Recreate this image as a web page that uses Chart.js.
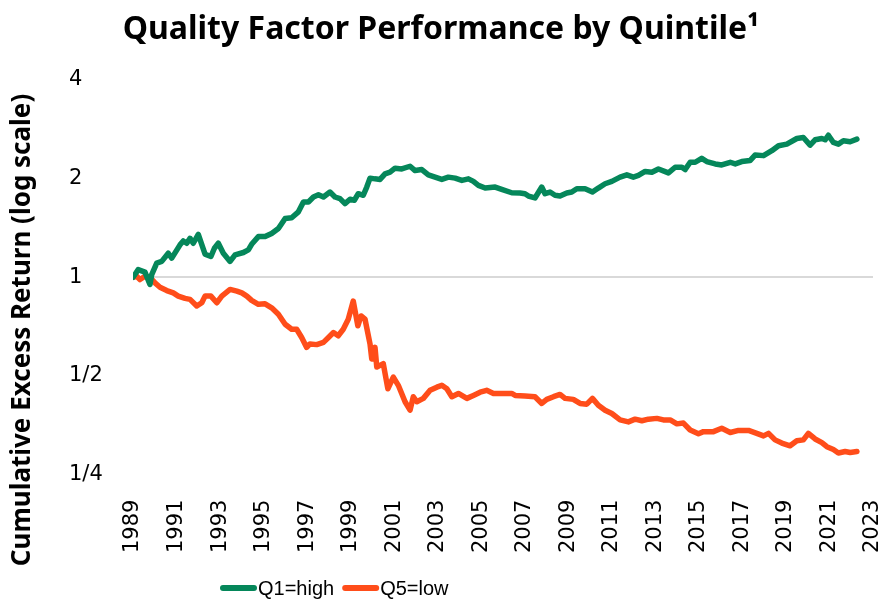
<!DOCTYPE html>
<html>
<head>
<meta charset="utf-8">
<script src="https://cdn.jsdelivr.net/npm/chart.js@4.4.1/dist/chart.umd.min.js"></script>
<style>
  html, body { margin: 0; padding: 0; background: #fff; }
  canvas { display: block; }
</style>
</head>
<body>
<canvas id="qualityChart" width="885" height="601"></canvas>
<script>
// --- values (cumulative excess return, log scale) ---
const q1Years = [1989.0, 1989.24, 1989.55, 1989.78, 1989.86, 1990.09, 1990.32, 1990.62, 1990.78, 1991.16,
  1991.31, 1991.47, 1991.62, 1991.77, 1992.0, 1992.31, 1992.58, 1992.74, 1992.92, 1993.15,
  1993.46, 1993.69, 1994.07, 1994.3, 1994.45, 1994.76, 1995.07, 1995.37, 1995.68, 1995.99,
  1996.29, 1996.6, 1996.83, 1997.06, 1997.29, 1997.52, 1997.75, 1998.05, 1998.28, 1998.51,
  1998.74, 1998.97, 1999.17, 1999.35, 1999.58, 1999.74, 1999.89, 2000.12, 2000.35, 2000.58,
  2000.81, 2001.04, 2001.35, 2001.73, 2001.96, 2002.27, 2002.57, 2002.88, 2003.19, 2003.49,
  2003.8, 2004.11, 2004.41, 2004.64, 2004.87, 2005.18, 2005.64, 2005.94, 2006.4, 2006.78,
  2007.01, 2007.17, 2007.47, 2007.78, 2007.93, 2008.16, 2008.39, 2008.62, 2008.93, 2009.16,
  2009.39, 2009.77, 2010.11, 2010.38, 2010.69, 2011.0, 2011.38, 2011.69, 2011.99, 2012.22,
  2012.53, 2012.84, 2013.14, 2013.6, 2013.91, 2014.22, 2014.37, 2014.6, 2014.83, 2015.13,
  2015.36, 2015.75, 2016.05, 2016.44, 2016.67, 2016.97, 2017.35, 2017.58, 2017.97, 2018.35,
  2018.66, 2019.04, 2019.5, 2019.8, 2020.11, 2020.34, 2020.65, 2020.8, 2020.95, 2021.18,
  2021.41, 2021.64, 2021.95, 2022.26];
const q1Values = [1.0, 1.055, 1.037, 0.951, 1.019, 1.105, 1.118, 1.184, 1.144, 1.256,
  1.291, 1.270, 1.315, 1.270, 1.352, 1.176, 1.157, 1.226, 1.270, 1.184,
  1.118, 1.171, 1.190, 1.213, 1.261, 1.331, 1.331, 1.361, 1.409, 1.512,
  1.519, 1.584, 1.698, 1.698, 1.758, 1.786, 1.758, 1.820, 1.758, 1.738,
  1.678, 1.730, 1.718, 1.799, 1.779, 1.885, 2.007, 1.997, 1.989, 2.068,
  2.093, 2.152, 2.141, 2.182, 2.117, 2.132, 2.054, 2.021, 1.989, 2.021,
  2.007, 1.975, 1.997, 1.962, 1.908, 1.872, 1.885, 1.855, 1.811, 1.808,
  1.799, 1.770, 1.746, 1.885, 1.799, 1.820, 1.779, 1.770, 1.808, 1.820,
  1.862, 1.862, 1.820, 1.872, 1.929, 1.962, 2.021, 2.054, 2.021, 2.045,
  2.103, 2.093, 2.141, 2.082, 2.167, 2.167, 2.132, 2.244, 2.244, 2.307,
  2.255, 2.218, 2.202, 2.244, 2.218, 2.255, 2.271, 2.360, 2.351, 2.434,
  2.521, 2.549, 2.652, 2.670, 2.531, 2.628, 2.652, 2.628, 2.713, 2.579,
  2.549, 2.610, 2.592, 2.639];

const q5Years = [1989.0, 1989.17, 1989.32, 1989.55, 1989.78, 1990.01, 1990.24, 1990.55, 1990.85, 1991.08,
  1991.39, 1991.62, 1991.93, 1992.16, 1992.31, 1992.58, 1992.85, 1993.08, 1993.46, 1993.77,
  1994.0, 1994.23, 1994.45, 1994.76, 1995.07, 1995.37, 1995.68, 1995.99, 1996.29, 1996.52,
  1996.75, 1996.98, 1997.13, 1997.44, 1997.75, 1997.98, 1998.21, 1998.43, 1998.66, 1998.89,
  1999.12, 1999.33, 1999.48, 1999.66, 1999.89, 1999.97, 2000.12, 2000.2, 2000.5, 2000.71,
  2000.96, 2001.19, 2001.5, 2001.73, 2001.88, 2002.04, 2002.34, 2002.65, 2002.96, 2003.19,
  2003.42, 2003.65, 2003.95, 2004.34, 2004.64, 2004.95, 2005.25, 2005.56, 2005.94, 2006.4,
  2006.56, 2007.01, 2007.47, 2007.78, 2008.01, 2008.32, 2008.62, 2008.85, 2009.23, 2009.54,
  2009.85, 2010.11, 2010.38, 2010.69, 2011.0, 2011.38, 2011.76, 2012.07, 2012.38, 2012.68,
  2013.07, 2013.37, 2013.68, 2013.99, 2014.29, 2014.6, 2014.98, 2015.21, 2015.67, 2016.05,
  2016.44, 2016.82, 2017.28, 2017.66, 2017.97, 2018.2, 2018.5, 2018.81, 2019.19, 2019.5,
  2019.8, 2020.03, 2020.34, 2020.65, 2020.88, 2021.18, 2021.41, 2021.72, 2021.95, 2022.26];
const q5Values = [1.0, 1.007, 0.984, 1.007, 1.0, 0.961, 0.932, 0.911, 0.896, 0.876,
  0.862, 0.856, 0.817, 0.836, 0.876, 0.876, 0.836, 0.876, 0.918, 0.907,
  0.896, 0.876, 0.850, 0.827, 0.830, 0.807, 0.771, 0.719, 0.694, 0.694,
  0.655, 0.611, 0.626, 0.623, 0.633, 0.655, 0.678, 0.663, 0.694, 0.745,
  0.846, 0.711, 0.762, 0.745, 0.626, 0.563, 0.611, 0.532, 0.545, 0.457,
  0.496, 0.468, 0.417, 0.393, 0.432, 0.417, 0.427, 0.452, 0.462, 0.468,
  0.457, 0.432, 0.442, 0.427, 0.436, 0.446, 0.452, 0.442, 0.442, 0.442,
  0.436, 0.434, 0.432, 0.412, 0.424, 0.432, 0.439, 0.427, 0.424, 0.412,
  0.410, 0.427, 0.407, 0.393, 0.384, 0.367, 0.362, 0.369, 0.365, 0.369,
  0.371, 0.367, 0.367, 0.357, 0.359, 0.342, 0.333, 0.338, 0.338, 0.346,
  0.336, 0.341, 0.341, 0.334, 0.328, 0.334, 0.319, 0.312, 0.306, 0.317,
  0.319, 0.334, 0.321, 0.313, 0.304, 0.298, 0.291, 0.294, 0.292, 0.294];

const seriesLabels = ['Q1=high', 'Q5=low'];
const seriesColors = ['#05875a', '#ff4d1a'];

const xTickFirst = 1989;
const xTickLast = 2023;
const yTickValues = [0.25, 0.5, 1, 2, 4];
const yTickLabels = ['1/4', '1/2', '1', '2', '4'];

const chartTitle = 'Quality Factor Performance by Quintile\u00b9';
const yAxisTitle = 'Cumulative Excess Return (log scale)';

// title, rotated axis title and legend are drawn by hand so they can sit off-centre like the original
const extraText = {
  id: 'extraText',
  afterDraw(chart) {
    const ctx = chart.ctx;
    ctx.save();
    ctx.fillStyle = '#000';
    ctx.textAlign = 'center';
    ctx.textBaseline = 'alphabetic';
    ctx.font = 'bold 32px "Noto Sans"';
    ctx.fillText(chartTitle, 441, 39);

    ctx.save();
    ctx.translate(23, 330);
    ctx.rotate(-Math.PI / 2);
    ctx.textBaseline = 'middle';
    ctx.font = 'bold 26px "Noto Sans"';
    ctx.fillText(yAxisTitle, 0, 0);
    ctx.restore();

    ctx.font = '20px "Liberation Sans"';
    ctx.textAlign = 'left';
    ctx.textBaseline = 'middle';
    let x = 220;
    chart.data.datasets.forEach(ds => {
      ctx.strokeStyle = ds.borderColor;
      ctx.lineWidth = 6;
      ctx.lineCap = 'round';
      ctx.beginPath();
      ctx.moveTo(x + 3, 588);
      ctx.lineTo(x + 34, 588);
      ctx.stroke();
      ctx.fillText(ds.label, x + 38, 589);
      x += 38 + ctx.measureText(ds.label).width + 8;
    });
    ctx.restore();
  }
};

const toPoints = (xs, ys) => xs.map((x, i) => ({ x, y: ys[i] }));

const lineStyle = {
  borderWidth: 5.5,
  pointRadius: 0,
  tension: 0,
  borderJoinStyle: 'round',
  borderCapStyle: 'round',
};

new Chart(document.getElementById('qualityChart'), {
  type: 'line',
  data: {
    datasets: [
      {
        label: seriesLabels[0],
        data: toPoints(q1Years, q1Values),
        borderColor: seriesColors[0],
        backgroundColor: seriesColors[0],
        ...lineStyle,
      },
      {
        label: seriesLabels[1],
        data: toPoints(q5Years, q5Values),
        borderColor: seriesColors[1],
        backgroundColor: seriesColors[1],
        ...lineStyle,
      },
    ],
  },
  options: {
    responsive: false,
    animation: false,
    layout: { padding: { left: 69, right: 12, top: 80, bottom: 31 } },
    plugins: {
      legend: { display: false },
      title: { display: false },
      tooltip: { enabled: false },
    },
    scales: {
      x: {
        type: 'linear',
        min: xTickFirst,
        max: xTickLast,
        grid: { display: false },
        border: { display: false },
        afterFit: s => {
          s.paddingLeft = 0;
          s.paddingRight = 0;
        },
        ticks: {
          stepSize: 2,
          minRotation: 90,
          maxRotation: 90,
          padding: 17,
          color: '#000',
          font: { family: '"DejaVu Sans"', size: 21 },
          callback: v => String(v),
        },
      },
      y: {
        type: 'logarithmic',
        min: 0.25,
        max: 4,
        afterBuildTicks: scale => {
          scale.ticks = yTickValues.map(v => ({ value: v }));
        },
        afterFit: s => {
          s.width = 133 - 69;
        },
        grid: {
          drawTicks: false,
          lineWidth: 2,
          color: c => (c.tick && c.tick.value === 1 ? '#d9d9d9' : 'rgba(0,0,0,0)'),
        },
        border: { display: false },
        ticks: {
          crossAlign: 'far',
          padding: 30,
          color: '#000',
          font: { family: '"DejaVu Sans"', size: 21 },
          callback: v => yTickLabels[yTickValues.indexOf(v)],
        },
      },
    },
  },
  plugins: [extraText],
});
</script>
</body>
</html>
